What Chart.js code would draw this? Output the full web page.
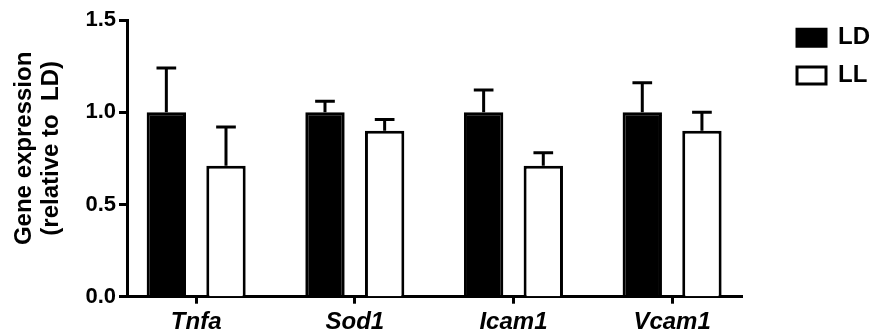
<!DOCTYPE html>
<html lang="en">
<head>
<meta charset="UTF-8">
<title>Gene expression LD vs LL</title>
<script src="https://cdn.jsdelivr.net/npm/chart.js"></script>
<style>
  html, body { margin: 0; padding: 0; background: #fff; }
</style>
</head>
<body>
<canvas id="geneChart" width="880" height="336"></canvas>
<script>
// data
const genes = ['Tnfa', 'Sod1', 'Icam1', 'Vcam1'];
const ldMean = [1.00, 1.00, 1.00, 1.00];
const ldErr = [0.24, 0.06, 0.12, 0.16];
const llMean = [0.71, 0.90, 0.71, 0.90];
const llErr = [0.21, 0.06, 0.07, 0.10];
const yTicks = [0, 0.5, 1.0, 1.5];

Chart.defaults.font.family = "'Liberation Sans', Arial, sans-serif";
Chart.defaults.color = '#000';

// upper error bars (mean + SEM), cap half the bar width
const errorBars = {
    id: 'errorBars',
    afterDatasetsDraw(chart) {
        const ctx = chart.ctx;
        const yScale = chart.scales.y;
        chart.data.datasets.forEach((ds, i) => {
            chart.getDatasetMeta(i).data.forEach((bar, j) => {
                const top = yScale.getPixelForValue(ds.data[j].y + ds.errors[j]);
                const half = bar.width / 4;
                ctx.save();
                ctx.strokeStyle = '#000';
                ctx.lineWidth = 3;
                ctx.beginPath();
                ctx.moveTo(bar.x, bar.y);
                ctx.lineTo(bar.x, top);
                ctx.moveTo(bar.x - half, top);
                ctx.lineTo(bar.x + half, top);
                ctx.stroke();
                ctx.restore();
            });
        });
    }
};

const ctx = document.getElementById('geneChart').getContext('2d');
new Chart(ctx, {
    type: 'bar',
    data: {
        datasets: [{
            label: 'LD',
            data: ldMean.map((v, i) => ({ x: i, y: v })),
            errors: ldErr,
            backgroundColor: '#000',
            borderColor: '#000',
            borderWidth: 3
        }, {
            label: 'LL',
            data: llMean.map((v, i) => ({ x: i, y: v })),
            errors: llErr,
            backgroundColor: '#fff',
            borderColor: '#000',
            borderWidth: 3
        }]
    },
    options: {
        responsive: false,
        animation: false,
        categoryPercentage: 0.752,
        barPercentage: 0.66,
        layout: { padding: { top: 12, right: 0, left: 0, bottom: 0 } },
        scales: {
            x: {
                type: 'linear',
                min: -0.436,
                max: 3.445,
                offset: false,
                afterBuildTicks: (axis) => { axis.ticks = genes.map((g, i) => ({ value: i })); },
                afterFit: (s) => { s.height = 39.3; },
                grid: { display: true, offset: false, drawOnChartArea: false, drawTicks: true, tickLength: 7, tickWidth: 3, color: '#000' },
                border: { display: true, width: 3, color: '#000' },
                ticks: {
                    autoSkip: false,
                    maxRotation: 0,
                    padding: 4,
                    font: { size: 24, weight: 'bold', style: 'italic' },
                    callback: (v) => genes[v]
                }
            },
            y: {
                min: 0,
                max: 1.5,
                afterBuildTicks: (axis) => { axis.ticks = yTicks.map(v => ({ value: v })); },
                afterFit: (s) => { s.width = 127; s.paddingTop = 20; },
                grid: { display: true, drawOnChartArea: false, drawTicks: true, tickLength: 8, tickWidth: 3, color: '#000' },
                border: { display: true, width: 3, color: '#000' },
                ticks: {
                    padding: 3,
                    font: { size: 22, weight: 'bold' },
                    callback: (v) => v.toFixed(1)
                },
                title: {
                    display: true,
                    text: ['   Gene expression', '   (relative to  LD)'],
                    font: { size: 24, weight: 'bold', lineHeight: 1.1 },
                    padding: { top: 11.5, bottom: 0 }
                }
            },
            // empty spacer between plot and legend
            y2: {
                position: 'right',
                display: true,
                grid: { display: false },
                border: { display: false },
                ticks: { display: false },
                afterFit: (s) => { s.width = 40.6; }
            }
        },
        plugins: {
            legend: {
                position: 'right',
                align: 'start',
                labels: {
                    boxWidth: 29,
                    boxHeight: 17,
                    padding: 13.7,
                    font: { size: 24, weight: 'bold' }
                }
            },
            tooltip: { enabled: false }
        }
    },
    plugins: [errorBars]
});
</script>
</body>
</html>
